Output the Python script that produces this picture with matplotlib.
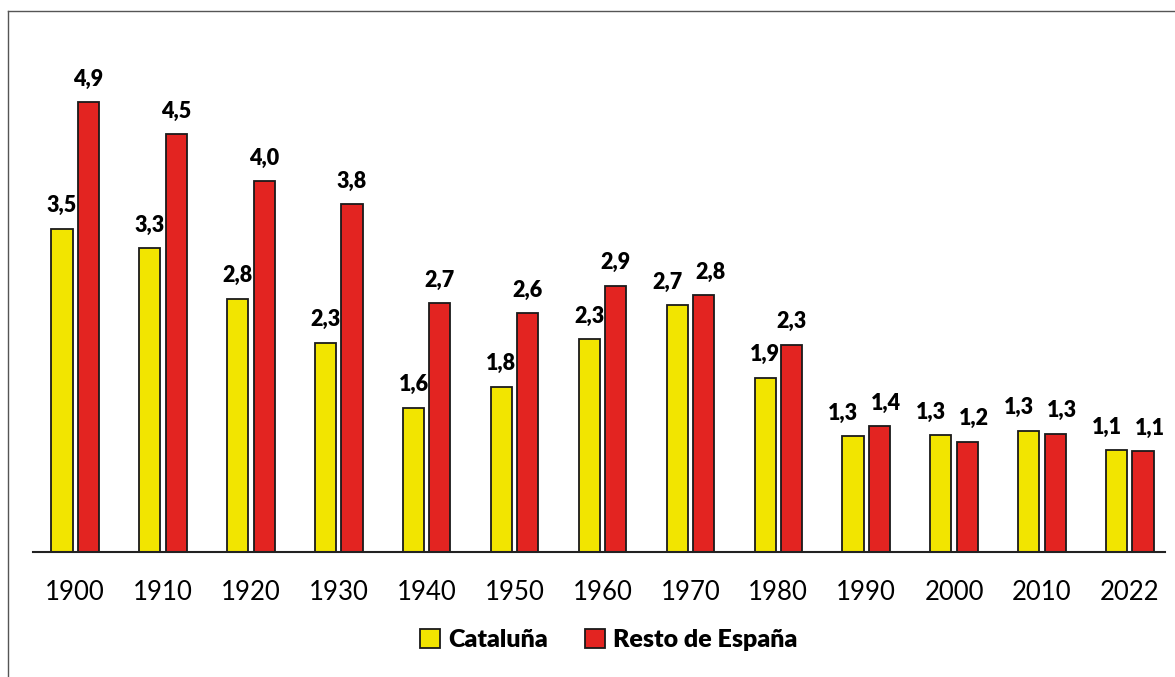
import matplotlib.pyplot as plt
import matplotlib.lines as mlines
import numpy as np

plt.rcParams['font.family'] = ['Lato', 'DejaVu Sans']

# Data
years = ['1900', '1910', '1920', '1930', '1940', '1950', '1960',
         '1970', '1980', '1990', '2000', '2010', '2022']
cataluna = [3.52, 3.31, 2.76, 2.28, 1.57, 1.80, 2.32, 2.69, 1.90, 1.26, 1.27, 1.32, 1.11]
resto = [4.90, 4.55, 4.04, 3.79, 2.71, 2.60, 2.90, 2.80, 2.26, 1.37, 1.20, 1.29, 1.10]

yellow = '#F2E500'
red = '#E32421'
edge = '#1a1a1a'

fig = plt.figure(figsize=(11.75, 6.77), dpi=100)
ax = fig.add_axes([33 / 1175, 125 / 677, (1165 - 33) / 1175, 505 / 677])

x = np.arange(len(years))
w = 0.24
off = 0.15
b1 = ax.bar(x - off, cataluna, w, color=yellow, edgecolor=edge, linewidth=1.3,
            label='Cataluña', zorder=2)
b2 = ax.bar(x + off, resto, w, color=red, edgecolor=edge, linewidth=1.3,
            label='Resto de España', zorder=2)

# push the two labels of a group apart when their heights are close
for i, (c, r) in enumerate(zip(cataluna, resto)):
    close = abs(c - r) < 0.3
    for rect, v, dx in [(b1[i], c, -7 if close else 0), (b2[i], r, 5 if close else 0)]:
        ax.annotate(f'{v:.1f}'.replace('.', ','),
                    (rect.get_x() + rect.get_width() / 2, v),
                    xytext=(dx, 9), textcoords='offset points',
                    ha='center', va='bottom', fontsize=15.5, fontweight='heavy')

ax.set_xlim(-0.48, 12.4)
ax.set_ylim(0, 505 / 91.8)
ax.set_xticks(x)
ax.set_xticklabels(years, fontsize=18.5)
ax.tick_params(axis='x', length=0, pad=20)
ax.set_yticks([])
for s in ['left', 'right', 'top']:
    ax.spines[s].set_visible(False)
ax.spines['bottom'].set_linewidth(1.5)
ax.spines['bottom'].set_color('#222222')

leg = fig.legend(loc='center', bbox_to_anchor=(0.518, 1 - 640 / 677), ncol=2,
                 frameon=False, prop={'size': 18, 'weight': 'heavy'},
                 handlelength=0.8, handleheight=0.8, handletextpad=0.3,
                 columnspacing=1.5)

# frame lines around the figure (left and top)
fig.add_artist(mlines.Line2D([8 / 1175, 8 / 1175], [0, 1 - 11 / 677],
                             color='#555555', linewidth=1, transform=fig.transFigure))
fig.add_artist(mlines.Line2D([8 / 1175, 1], [1 - 11 / 677, 1 - 11 / 677],
                             color='#555555', linewidth=1, transform=fig.transFigure))

fig.savefig('out.png', dpi=100, facecolor='white')
